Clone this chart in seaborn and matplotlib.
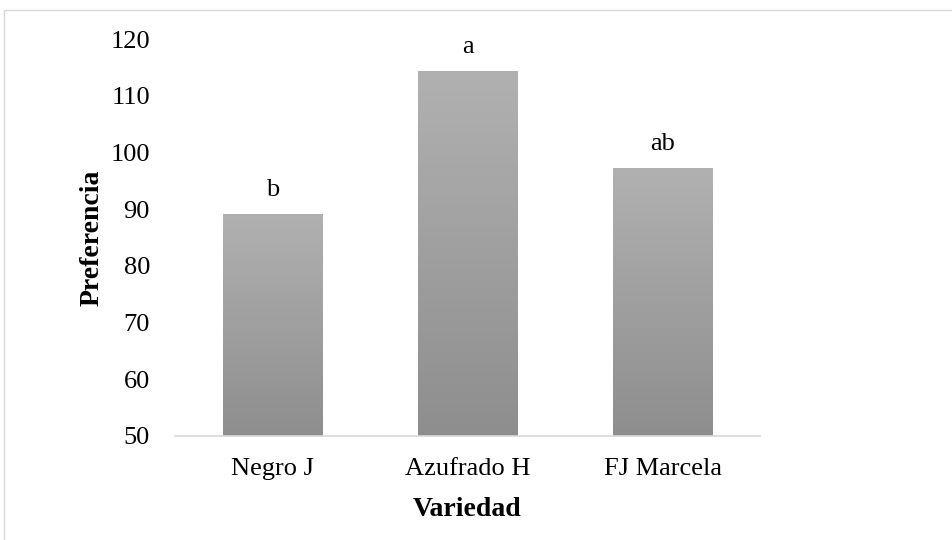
import numpy as np
import pandas as pd
import matplotlib
matplotlib.use("Agg")
import matplotlib.pyplot as plt
import seaborn as sns
from matplotlib.colors import LinearSegmentedColormap
from matplotlib.patches import Rectangle

variedades = ["Negro J", "Azufrado H", "FJ Marcela"]
preferencia = [89.2, 114.4, 97.3]
letras = ["b", "a", "ab"]

df = pd.DataFrame({"Variedad": variedades, "Preferencia": preferencia})

sns.set_theme(style="white")
plt.rcParams["font.family"] = ["Liberation Serif", "DejaVu Serif"]
plt.rcParams["text.color"] = "black"
plt.rcParams["axes.labelcolor"] = "black"

fig = plt.figure(figsize=(9.52, 5.4), dpi=100)
ax = fig.add_axes([175 / 952, 1 - 436 / 540, (760 - 175) / 952, (436 - 39) / 540])

sns.barplot(data=df, x="Variedad", y="Preferencia", color="#a0a0a0",
            width=0.51, ax=ax, zorder=2)

# degradado gris en las barras
cmap = LinearSegmentedColormap.from_list("gris", ["#8e8e8e", "#b1b1b1"])
grad = np.linspace(0, 1, 256).reshape(-1, 1)
for p in ax.patches:
    x0, w = p.get_x(), p.get_width()
    h = p.get_height()
    p.set_facecolor("none")
    p.set_edgecolor("none")
    im = ax.imshow(grad, cmap=cmap, origin="lower", aspect="auto",
                   extent=[x0, x0 + w, 50, h], zorder=2)
    im.set_clip_path(p)
ax.set_xlim(-0.5, 2.5)
ax.set_ylim(50, 120)

for i, (v, l) in enumerate(zip(preferencia, letras)):
    ax.annotate(l, (i, v), xytext=(0, 17), textcoords="offset points",
                ha="center", va="center", fontsize=19, color="black")

ax.set_yticks(range(50, 121, 10))
ax.tick_params(axis="y", length=0, pad=18, labelsize=19, labelcolor="black")
ax.tick_params(axis="x", length=0, pad=16, labelsize=19, labelcolor="black")
for s in ["top", "right", "left"]:
    ax.spines[s].set_visible(False)
ax.spines["bottom"].set_color("#d9d9d9")
ax.spines["bottom"].set_linewidth(1.2)

ax.set_xlabel("Variedad", fontsize=20, fontweight="bold", labelpad=12, color="black")
ax.set_ylabel("Preferencia", fontsize=20, fontweight="bold", labelpad=4, color="black")

fig.patches.append(Rectangle((4 / 952, -0.05), 1.2, 1.05 - 10 / 540,
                             transform=fig.transFigure, fill=False,
                             edgecolor="#d9d9d9", linewidth=1))

fig.savefig("out.png", dpi=100)
